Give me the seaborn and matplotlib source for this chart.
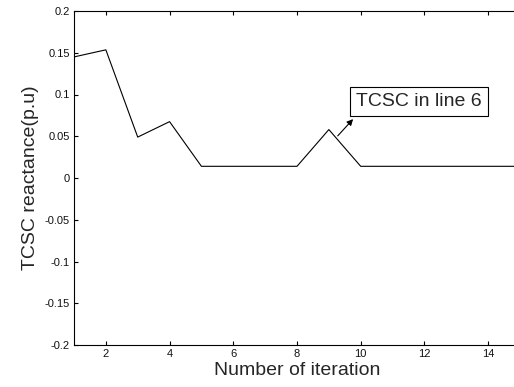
import matplotlib
matplotlib.use("Agg")
import matplotlib.pyplot as plt
import seaborn as sns
import pandas as pd

iterations = [1, 2, 3, 4, 5, 6, 7, 8, 9, 10, 11, 12, 13, 14, 15]
reactance = [0.145, 0.1535, 0.049, 0.0675, 0.014, 0.014, 0.014, 0.014,
             0.058, 0.014, 0.014, 0.014, 0.014, 0.014, 0.014]
xticks = [2, 4, 6, 8, 10, 12, 14]
yticks = [-0.2, -0.15, -0.1, -0.05, 0, 0.05, 0.1, 0.15, 0.2]
ytick_labels = ["-0.2", "-0.15", "-0.1", "-0.05", "0", "0.05", "0.1", "0.15", "0.2"]

sns.set_theme(style="white")
plt.rcParams['font.family'] = ['Liberation Sans', 'DejaVu Sans']

df = pd.DataFrame({"it": iterations, "x": reactance})

fig = plt.figure(figsize=(5.14, 3.87), dpi=100)
ax = fig.add_axes([74/514, 1-345/387, (520-74)/514, (345-11)/387])
sns.lineplot(data=df, x="it", y="x", ax=ax, color="black", linewidth=0.8)

ax.set_xlim(1, 15)
ax.set_ylim(-0.2, 0.2)
ax.set_xticks(xticks)
ax.set_xticklabels([str(t) for t in xticks])
ax.set_yticks(yticks)
ax.set_yticklabels(ytick_labels)
ax.tick_params(direction="in", length=3, width=0.8, labelsize=8, top=True, bottom=True,
               left=True, right=False, colors="black", labelcolor="#111111", pad=3)
for s in ax.spines.values():
    s.set_color("black")
    s.set_linewidth(0.8)
ax.set_xlabel("Number of iteration", fontsize=14, labelpad=2)
ax.set_ylabel("TCSC reactance(p.u)", fontsize=14, labelpad=4)

ax.annotate("", xy=(9.82, 0.073), xytext=(9.22, 0.048),
            arrowprops=dict(arrowstyle="-|>", color="black", lw=0.8, mutation_scale=9))
ax.text(11.83, 0.0915, "TCSC in line 6", fontsize=14, ha="center", va="center",
        bbox=dict(boxstyle="square,pad=0.3", fc="white", ec="black", lw=0.8))

fig.savefig("out.png", dpi=100)
